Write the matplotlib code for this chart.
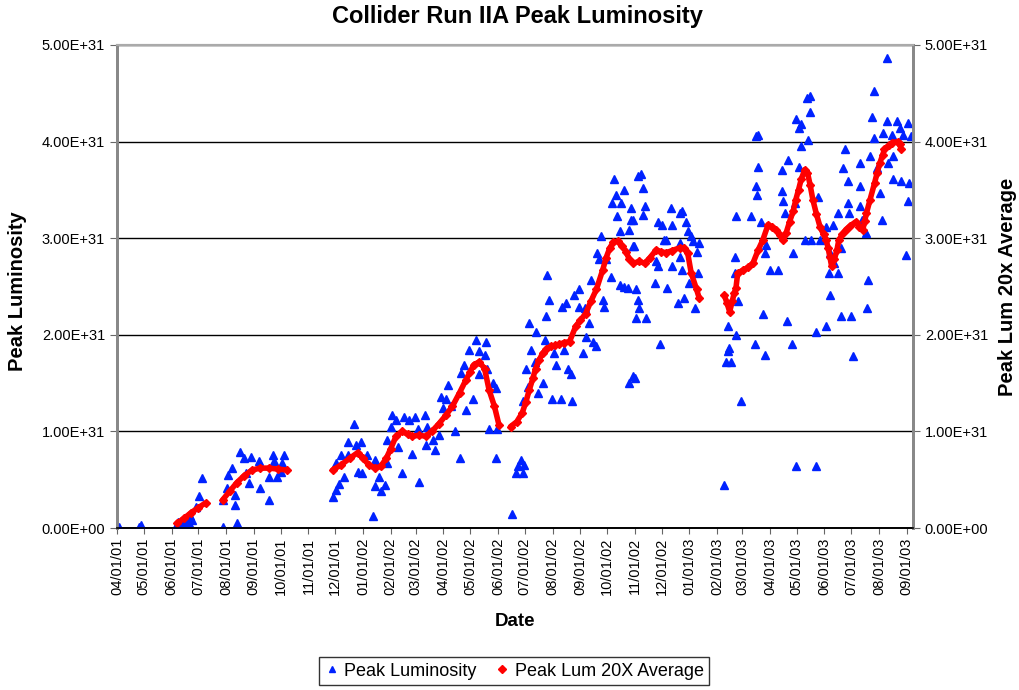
import numpy as np
import matplotlib
matplotlib.use('Agg')
import matplotlib.pyplot as plt
import matplotlib.dates as mdates
from matplotlib.ticker import FuncFormatter
from matplotlib.lines import Line2D

plt.rcParams['font.family'] = ['Liberation Sans', 'DejaVu Sans']

start = np.datetime64('2001-04-01')

# peak luminosity, days since 04/01/01 and value in units of 1E+31
lum_days = [2, 27, 25, 66, 68, 70, 72, 74, 76, 78, 80, 82, 84, 88, 92, 95,
            118, 134, 118, 123, 124, 129, 132, 132, 137, 142, 150, 144, 148, 159, 160, 170,
            174, 176, 170, 179, 185, 187, 183,
            241, 245, 248, 245, 250, 254, 258, 258, 265, 267, 273, 269, 274, 280, 286, 289,
            288, 293, 295, 300, 302, 302, 306, 307, 312, 314, 319, 321, 327, 330, 333, 336,
            338, 344, 345, 347, 353, 355, 360, 362, 364, 370, 368, 373, 378, 383, 385, 388,
            390, 394, 398, 401, 405, 405, 411, 413, 414, 420, 424, 416, 425, 424,
            442, 446, 448, 452, 455, 454, 454, 457, 459, 461, 463, 467, 471, 469, 476, 478,
            480, 481, 483, 486, 489, 491, 496, 498, 502, 500, 504, 508, 509, 511, 517, 517,
            521, 523, 524, 528, 530, 532, 536, 537, 539, 541, 543, 545, 547, 552, 554, 556,
            558, 559, 562, 563, 562, 567, 567, 571, 573, 577, 573, 575, 575, 578, 580, 580,
            582, 586, 588, 590, 588, 577, 577, 582, 584, 592, 579, 605, 609, 607, 603, 605,
            601, 612, 614, 615, 619, 621, 621, 627, 629, 632, 630, 632, 634, 629, 636, 638,
            642, 644, 648, 650, 651, 640, 646,
            679, 681, 683, 684, 683, 687, 692, 691, 691, 694, 692, 698, 709, 713, 715, 717,
            715, 716, 717, 720, 722, 724, 724, 726, 730, 739, 743, 743, 745, 747, 749, 750,
            756, 755, 758, 759, 759, 763, 765, 765, 763, 769, 771, 775, 775, 773, 776, 781,
            782, 784, 786, 793, 793, 797, 796, 797, 801, 802, 806, 806, 810, 810, 812, 814,
            817, 817, 819, 821, 823, 831, 831, 831, 833, 837, 839, 840, 842, 844, 846, 846,
            850, 853, 855, 857, 861, 861, 862, 866, 868, 868, 872, 875, 877, 879, 882, 884,
            884, 886, 888]
lum_vals = [0.01, 0.03, 0.01, 0.02, 0.06, 0.01, 0.04, 0.00, 0.07, 0.02, 0.05, 0.12, 0.08, 0.22, 0.33, 0.52,
            0.01, 0.05, 0.29, 0.41, 0.55, 0.62, 0.34, 0.24, 0.79, 0.72, 0.74, 0.57, 0.47, 0.69, 0.41, 0.29,
            0.76, 0.69, 0.53, 0.53, 0.67, 0.76, 0.58,
            0.32, 0.39, 0.46, 0.67, 0.76, 0.53, 0.89, 0.76, 1.08, 0.86, 0.89, 0.58, 0.57, 0.76, 0.12, 0.43,
            0.70, 0.53, 0.38, 0.45, 0.67, 0.91, 1.05, 1.17, 1.12, 0.84, 0.57, 1.15, 1.12, 0.77, 1.15, 1.03,
            0.48, 1.17, 0.86, 1.05, 0.91, 0.81, 0.96, 1.36, 1.24, 1.48, 1.34, 1.26, 1.00, 0.72, 1.60, 1.69,
            1.22, 1.84, 1.34, 1.95, 1.83, 1.59, 1.79, 1.93, 1.65, 1.50, 1.45, 1.03, 1.02, 0.72,
            0.15, 0.57, 0.64, 0.70, 0.65, 0.57, 1.31, 1.65, 1.46, 2.12, 1.84, 1.72, 1.40, 2.03, 1.50, 1.95,
            2.19, 2.62, 2.36, 1.34, 1.81, 1.69, 1.34, 2.29, 2.33, 1.84, 1.65, 1.59, 1.31, 2.41, 2.47, 2.29,
            1.81, 2.28, 1.98, 2.12, 2.57, 1.93, 1.88, 2.85, 2.78, 3.02, 2.36, 2.29, 2.78, 2.60, 3.36, 3.61,
            3.45, 3.23, 3.07, 3.36, 2.52, 2.50, 3.50, 2.48, 1.50, 1.57, 3.09, 3.19, 3.31, 2.92, 2.17, 2.47,
            3.64, 3.66, 3.52, 3.33, 3.24, 3.19, 2.92, 2.36, 2.28, 2.17, 1.55, 3.17, 3.14, 1.90, 2.76, 2.71,
            2.54, 2.98, 2.98, 2.48, 3.31, 3.14, 2.71, 2.33, 3.26, 3.28, 2.95, 2.67, 2.38, 2.81, 3.17, 3.07,
            3.02, 2.97, 2.86, 2.64, 2.95, 2.54, 2.28,
            0.45, 1.72, 1.83, 1.86, 2.09, 1.72, 2.00, 2.64, 2.81, 2.35, 3.23, 1.31, 3.23, 1.90, 4.06, 4.07,
            3.54, 3.45, 3.74, 3.17, 2.22, 2.85, 1.79, 2.93, 2.67, 2.67, 3.71, 3.49, 3.38, 3.26, 2.14, 3.81,
            2.85, 1.90, 3.36, 4.23, 0.64, 4.14, 3.95, 4.18, 3.74, 2.98, 4.45, 4.47, 4.31, 4.02, 2.98, 0.64,
            2.03, 3.43, 2.98, 2.09, 3.12, 2.41, 2.64, 2.85, 3.14, 2.74, 2.64, 3.26, 2.19, 2.90, 3.73, 3.92,
            3.59, 3.36, 3.26, 2.19, 1.78, 3.78, 3.54, 3.33, 3.19, 3.05, 2.28, 2.57, 3.85, 4.25, 4.04, 4.52,
            3.73, 3.47, 3.19, 4.09, 4.21, 4.87, 3.78, 4.07, 3.61, 3.85, 4.21, 4.14, 3.59, 4.07, 2.83, 4.19,
            3.38, 3.57, 4.06]

# 20x running average, nan marks gaps in the run
avg_days = [67, 75, 83, 91, 99, 100,
            118, 126, 134, 142, 151, 160, 170, 180, 190, 191,
            241, 250, 260, 269, 275, 282, 289, 295, 301, 306, 312, 319, 325, 330, 338, 345,
            352, 360, 368, 375, 383, 390, 395, 399, 405, 411, 416, 422, 427, 428,
            440, 447, 453, 457, 461, 465, 468, 472, 476, 480, 485, 490, 494, 500, 506, 513,
            518, 524, 530, 536, 543, 547, 551, 555, 560, 565, 569, 573, 577, 584, 590, 596,
            603, 608, 614, 620, 629, 634, 638, 642, 648, 651, 652,
            679, 682, 685, 688, 690, 692, 694, 700, 706, 711, 717, 722, 728, 732, 737, 741,
            745, 748, 752, 756, 759, 762, 765, 769, 772, 775, 778, 782, 786, 790, 793, 795,
            797, 799, 802, 805, 807, 811, 815, 820, 826, 830, 834, 836, 838, 842, 847, 850,
            853, 856, 858, 863, 867, 873, 875, 877]
avg_vals = [0.05, 0.10, 0.16, 0.21, 0.26, np.nan,
            0.29, 0.38, 0.47, 0.54, 0.60, 0.62, 0.62, 0.61, 0.60, np.nan,
            0.60, 0.65, 0.72, 0.78, 0.72, 0.65, 0.62, 0.64, 0.72, 0.82, 0.95, 1.00, 0.97, 0.95, 0.96, 0.95,
            1.00, 1.08, 1.17, 1.26, 1.40, 1.53, 1.62, 1.69, 1.72, 1.65, 1.43, 1.26, 1.07, np.nan,
            1.05, 1.10, 1.19, 1.30, 1.43, 1.55, 1.65, 1.74, 1.81, 1.85, 1.88, 1.89, 1.90, 1.92, 1.93, 2.09,
            2.15, 2.22, 2.35, 2.47, 2.67, 2.80, 2.90, 2.96, 2.97, 2.92, 2.86, 2.78, 2.74, 2.76, 2.74, 2.80,
            2.88, 2.86, 2.85, 2.87, 2.90, 2.90, 2.85, 2.64, 2.47, 2.38, np.nan,
            2.41, 2.33, 2.24, 2.35, 2.43, 2.48, 2.64, 2.67, 2.70, 2.74, 2.88, 2.98, 3.14, 3.12, 3.09, 3.03,
            2.98, 3.05, 3.17, 3.28, 3.40, 3.50, 3.61, 3.71, 3.68, 3.55, 3.40, 3.25, 3.12, 3.04, 2.98, 2.90,
            2.81, 2.71, 2.78, 2.88, 2.98, 3.04, 3.09, 3.13, 3.17, 3.12, 3.09, 3.18, 3.26, 3.40, 3.57, 3.68,
            3.78, 3.86, 3.92, 3.96, 3.99, 4.00, 3.97, 3.92]

yticks = [0, 1e31, 2e31, 3e31, 4e31, 5e31]

lum_x = start + np.array(lum_days).astype('timedelta64[D]')
lum_y = np.array(lum_vals) * 1e31
avg_x = start + np.array(avg_days).astype('timedelta64[D]')
avg_y = np.array(avg_vals, dtype=float) * 1e31

fig = plt.figure(figsize=(10.2, 6.9), dpi=100)
ax = fig.add_axes([117 / 1020, 1 - 528 / 690, 796 / 1020, 483 / 690])

ax.plot(lum_x, lum_y, linestyle='none', marker='^', ms=6, color='#0022ff', mec='#0022ff', zorder=3)
ax.plot(avg_x, avg_y, '-', color='#ff0000', lw=4, solid_capstyle='round', zorder=4)
ax.plot(avg_x, avg_y, linestyle='none', marker='D', ms=4, color='#ff0000', zorder=4)

sci = FuncFormatter(lambda v, p: '{:.2E}'.format(v))
ax.set_ylim(0, 5e31)
ax.set_yticks(yticks)
ax.yaxis.set_major_formatter(sci)
ax.set_xlim(np.datetime64('2001-04-01'), np.datetime64('2003-09-08'))
ax.xaxis.set_major_locator(mdates.MonthLocator())
ax.xaxis.set_major_formatter(mdates.DateFormatter('%m/%d/%y'))
for lab in ax.get_xticklabels():
    lab.set_rotation(90)
ax.tick_params(axis='x', labelsize=10.5, length=4, color='#666666', pad=3)
ax.tick_params(axis='y', labelsize=10.5, length=5, color='#666666')
ax.grid(axis='y', color='black', lw=1)
ax.set_axisbelow(True)

ax2 = ax.twinx()
ax2.set_ylim(0, 5e31)
ax2.set_yticks(yticks)
ax2.yaxis.set_major_formatter(sci)
ax2.tick_params(axis='y', labelsize=10.5, length=5, color='#666666')

for a in (ax, ax2):
    a.spines['left'].set_color('#888888')
    a.spines['left'].set_linewidth(2)
    a.spines['right'].set_color('#888888')
    a.spines['right'].set_linewidth(2)
    a.spines['top'].set_color('#aaaaaa')
    a.spines['top'].set_linewidth(1.5)
    a.spines['bottom'].set_color('black')
    a.spines['bottom'].set_linewidth(1.2)

fig.text(0.507, 1 - 16 / 690, 'Collider Run IIA Peak Luminosity', ha='center', va='center',
         fontsize=17, fontweight='bold')
fig.text(18 / 1020, 1 - 291 / 690, 'Peak Luminosity', rotation=90, ha='center', va='center',
         fontsize=14.5, fontweight='bold')
fig.text(1008 / 1020, 1 - 287 / 690, 'Peak Lum 20x Average', rotation=90, ha='center', va='center',
         fontsize=14.5, fontweight='bold')
fig.text(515 / 1020, 1 - 621 / 690, 'Date', ha='center', va='center', fontsize=13.5, fontweight='bold')

handles = [Line2D([], [], linestyle='none', marker='^', ms=5, color='#0022ff'),
           Line2D([], [], linestyle='none', marker='D', ms=4, color='#ff0000')]
leg = fig.legend(handles, ['Peak Luminosity', 'Peak Lum 20X Average'], loc='center',
                 bbox_to_anchor=(514 / 1020, 1 - 671 / 690), ncol=2, fontsize=13,
                 frameon=True, fancybox=False, handlelength=0.8, handletextpad=0.3,
                 columnspacing=1.0, borderpad=0.3)
leg.get_frame().set_edgecolor('black')
leg.get_frame().set_linewidth(1)

fig.savefig('out.png', dpi=100)
